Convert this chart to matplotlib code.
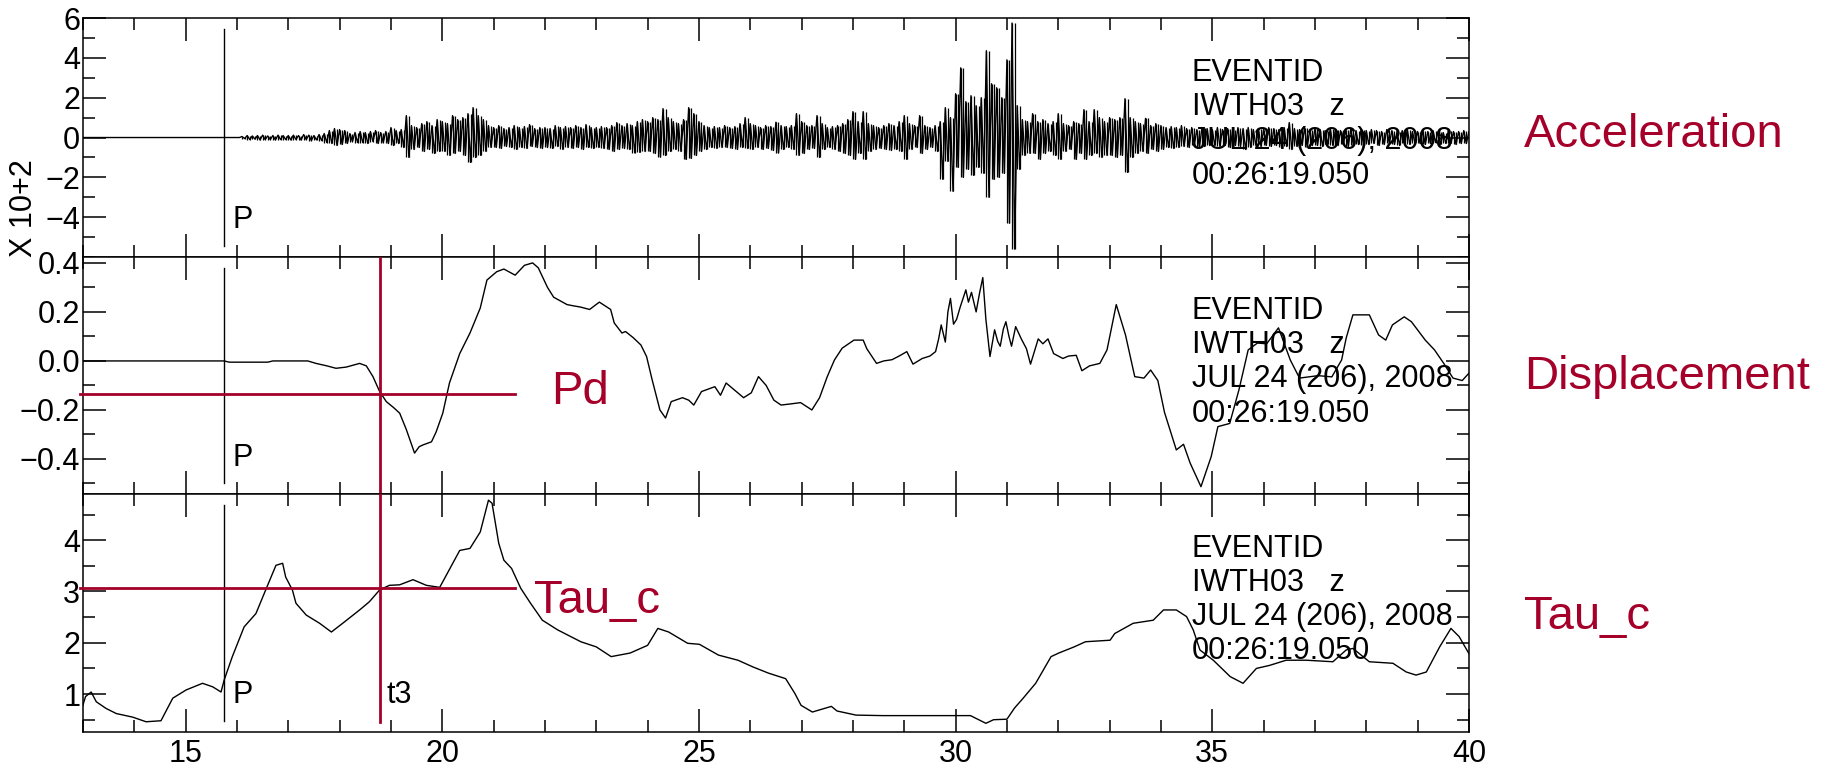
import numpy as np
import matplotlib
matplotlib.use('Agg')
import matplotlib.pyplot as plt
from matplotlib import font_manager
from matplotlib.ticker import MultipleLocator, FixedLocator, FuncFormatter


def pick_font(names, default='DejaVu Sans'):
    for name in names:
        try:
            font_manager.findfont(name, fallback_to_default=False)
            return name
        except ValueError:
            continue
    return default


# ---- acceleration (x 10^2), peak / trough per 0.1 s bin from 16.0 s ----
acc_t0 = 16.0
acc_dt = 0.1
acc_hi = [
    0.00, 0.05, 0.10, 0.08, 0.10, 0.12, 0.08, 0.10, 0.12, 0.10,  # 16
    0.10, 0.12, 0.10, 0.15, 0.12, 0.10, 0.15, 0.20, 0.35, 0.45,  # 17
    0.40, 0.35, 0.20, 0.25, 0.30, 0.25, 0.30, 0.35, 0.25, 0.30,  # 18
    0.50, 0.35, 0.40, 1.10, 0.60, 0.50, 0.70, 0.80, 0.60, 0.90,  # 19
    0.80, 0.70, 1.10, 0.90, 1.00, 1.20, 1.50, 1.10, 0.90, 0.60,  # 20
    0.50, 0.60, 0.45, 0.50, 0.60, 0.50, 0.55, 0.65, 0.45, 0.50,  # 21
    0.50, 0.45, 0.60, 0.50, 0.55, 0.50, 0.60, 0.50, 0.65, 0.50,  # 22
    0.50, 0.55, 0.50, 0.60, 0.75, 0.60, 0.70, 0.60, 0.80, 0.90,  # 23
    0.80, 1.00, 0.90, 1.45, 1.00, 0.80, 0.70, 0.90, 1.50, 1.20,  # 24
    0.80, 0.60, 0.50, 0.55, 0.50, 0.60, 0.50, 0.55, 0.70, 1.00,  # 25
    0.70, 0.60, 0.50, 0.60, 0.55, 0.77, 0.60, 0.55, 0.60, 1.20,  # 26
    0.80, 0.60, 0.60, 1.10, 0.70, 0.50, 0.55, 0.60, 0.70, 0.90,  # 27
    1.30, 0.80, 1.30, 0.70, 0.60, 0.50, 0.60, 0.70, 0.60, 0.80,  # 28
    1.10, 0.70, 0.60, 1.10, 0.60, 0.50, 0.60, 0.80, 1.50, 1.00,  # 29
    2.20, 3.50, 1.80, 2.10, 1.60, 2.00, 4.36, 2.70, 2.50, 2.00,  # 30
    3.90, 5.75, 1.60, 0.90, 0.80, 1.20, 0.80, 0.90, 0.70, 0.80,  # 31
    1.20, 0.70, 0.60, 0.80, 0.70, 1.40, 0.80, 1.40, 1.00, 0.80,  # 32
    1.00, 0.90, 1.00, 1.95, 1.00, 0.80, 0.70, 0.96, 0.60, 0.70,  # 33
    0.60, 0.50, 0.55, 0.50, 0.60, 0.45, 0.50, 0.40, 0.50, 0.45,  # 34
    0.40, 0.50, 0.40, 0.45, 0.40, 0.50, 0.45, 0.50, 0.40, 0.45,  # 35
    0.40, 0.50, 0.45, 0.40, 0.50, 0.75, 0.45, 0.40, 0.50, 0.40,  # 36
    0.45, 0.40, 0.35, 0.45, 0.40, 0.35, 0.40, 0.45, 0.35, 0.40,  # 37
    0.35, 0.40, 0.35, 0.30, 0.40, 0.35, 0.30, 0.35, 0.40, 0.30,  # 38
    0.30, 0.35, 0.30, 0.35, 0.30, 0.25, 0.35, 0.30, 0.30, 0.35,  # 39
    0.30,
]
acc_lo = [
    0.00, -0.05, -0.10, -0.08, -0.12, -0.10, -0.10, -0.12, -0.10, -0.10,
    -0.12, -0.10, -0.12, -0.10, -0.15, -0.12, -0.15, -0.25, -0.30, -0.40,
    -0.35, -0.30, -0.20, -0.25, -0.25, -0.30, -0.20, -0.30, -0.25, -0.30,
    -0.40, -0.30, -0.50, -1.00, -0.60, -0.50, -0.70, -0.60, -0.80, -0.70,
    -0.70, -0.90, -0.80, -0.70, -0.90, -1.25, -1.00, -0.90, -0.70, -0.50,
    -0.50, -0.55, -0.45, -0.50, -0.60, -0.50, -0.55, -0.45, -0.50, -0.55,
    -0.50, -0.55, -0.45, -0.60, -0.50, -0.55, -0.50, -0.60, -0.50, -0.55,
    -0.50, -0.55, -0.60, -0.70, -0.60, -0.55, -0.60, -0.77, -0.75, -0.70,
    -0.70, -0.80, -0.98, -0.90, -0.70, -0.60, -0.70, -1.10, -1.05, -0.90,
    -0.70, -0.60, -0.50, -0.55, -0.50, -0.50, -0.55, -0.60, -0.50, -0.55,
    -0.60, -0.50, -0.60, -0.55, -0.65, -0.77, -0.60, -0.50, -0.60, -0.90,
    -0.80, -0.60, -0.55, -1.00, -0.60, -0.50, -0.60, -0.70, -0.80, -0.90,
    -1.10, -0.80, -1.10, -0.70, -0.60, -0.55, -0.60, -0.65, -0.60, -0.70,
    -1.10, -0.60, -0.50, -0.80, -0.60, -0.50, -0.70, -2.10, -1.20, -2.70,
    -1.50, -2.00, -1.60, -1.90, -1.50, -1.80, -3.00, -2.10, -2.00, -1.80,
    -4.30, -5.60, -1.60, -0.90, -0.80, -0.80, -1.10, -0.80, -0.70, -0.90,
    -1.10, -0.70, -0.60, -1.10, -0.80, -1.10, -0.90, -0.80, -1.00, -0.90,
    -0.90, -1.00, -0.90, -1.75, -1.00, -0.80, -0.70, -0.80, -0.60, -0.70,
    -0.60, -0.50, -0.55, -0.50, -0.45, -0.50, -0.40, -0.50, -0.45, -0.40,
    -0.40, -0.45, -0.40, -0.50, -0.40, -0.45, -0.60, -0.50, -0.40, -0.45,
    -0.40, -0.45, -0.40, -0.50, -0.45, -0.60, -0.45, -0.40, -0.50, -0.40,
    -0.40, -0.45, -0.35, -0.40, -0.40, -0.35, -0.45, -0.40, -0.35, -0.40,
    -0.35, -0.30, -0.40, -0.35, -0.30, -0.35, -0.40, -0.30, -0.35, -0.30,
    -0.30, -0.35, -0.30, -0.25, -0.35, -0.30, -0.30, -0.35, -0.30, -0.30,
    -0.30,
]

# ---- displacement ----
disp_t = [13.0, 15.75, 15.85, 16.6, 16.7, 17.38, 17.54, 17.75, 17.93, 18.13,
          18.39, 18.52, 18.65, 18.78, 18.91, 19.05, 19.17, 19.3, 19.46, 19.55,
          19.62, 19.79, 19.88, 20.01, 20.14, 20.34, 20.54, 20.74, 20.87, 21.06,
          21.2, 21.42, 21.6, 21.76, 21.87, 22.05, 22.17, 22.43, 22.55, 22.69,
          22.87, 23.06, 23.28, 23.35, 23.5, 23.57, 23.72, 23.87, 23.98, 24.09,
          24.24, 24.35, 24.46, 24.68, 24.8, 24.9, 25.05, 25.31, 25.42, 25.53,
          25.7, 25.87, 26.02, 26.16, 26.31, 26.46, 26.6, 26.8, 26.98, 27.2,
          27.35, 27.5, 27.64, 27.79, 28.02, 28.2, 28.27, 28.46, 28.6, 28.76,
          28.9, 29.05, 29.17, 29.35, 29.5, 29.61, 29.67, 29.72, 29.8, 29.85,
          29.9, 29.96, 30.02, 30.09, 30.2, 30.25, 30.31, 30.4, 30.47, 30.53,
          30.59, 30.67, 30.76, 30.82, 30.87, 30.93, 30.98, 31.04, 31.09, 31.17,
          31.28, 31.38, 31.46, 31.61, 31.7, 31.8, 31.91, 32.09, 32.2, 32.35,
          32.46, 32.61, 32.81, 32.95, 33.13, 33.31, 33.49, 33.67, 33.8, 33.94,
          34.07, 34.3, 34.44, 34.57, 34.78, 34.98, 35.11, 35.34, 35.52, 35.7,
          35.88, 36.06, 36.29, 36.52, 36.7, 37.06, 37.33, 37.52, 37.61, 37.74,
          38.06, 38.24, 38.38, 38.51, 38.74, 38.88, 39.15, 39.33, 39.51, 39.69,
          39.87, 40.0]
disp_v = [0.0, 0.0, -0.005, -0.005, 0.0, 0.0, -0.01, -0.02, -0.03, -0.025,
          -0.01, -0.02, -0.064, -0.125, -0.166, -0.19, -0.213, -0.28, -0.376, -0.35,
          -0.343, -0.33, -0.29, -0.213, -0.09, 0.03, 0.114, 0.216, 0.33, 0.364,
          0.375, 0.35, 0.39, 0.40, 0.38, 0.30, 0.26, 0.23, 0.225, 0.22,
          0.21, 0.24, 0.21, 0.155, 0.114, 0.12, 0.095, 0.065, 0.018, -0.078,
          -0.2, -0.233, -0.166, -0.15, -0.16, -0.18, -0.125, -0.105, -0.14, -0.09,
          -0.12, -0.15, -0.13, -0.064, -0.1, -0.16, -0.18, -0.175, -0.17, -0.2,
          -0.15, -0.064, 0.004, 0.052, 0.085, 0.085, 0.05, -0.01, 0.0, 0.005,
          0.02, 0.038, -0.013, 0.01, 0.02, 0.038, 0.09, 0.147, 0.077, 0.2,
          0.255, 0.15, 0.17, 0.22, 0.29, 0.24, 0.28, 0.2, 0.28, 0.34,
          0.17, 0.018, 0.127, 0.08, 0.06, 0.13, 0.16, 0.1, 0.06, 0.14,
          0.09, 0.05, -0.013, 0.09, 0.07, 0.09, 0.03, 0.01, 0.02, 0.023,
          -0.04, -0.02, -0.01, 0.045, 0.23, 0.106, -0.064, -0.07, -0.037, -0.08,
          -0.21, -0.363, -0.34, -0.417, -0.513, -0.39, -0.268, -0.255, -0.118, 0.045,
          0.073, 0.07, 0.135, 0.004, -0.07, -0.06, -0.065, 0.004, 0.094, 0.188,
          0.188, 0.106, 0.085, 0.147, 0.18, 0.16, 0.085, 0.045, -0.01, -0.07,
          -0.08, -0.05]

# ---- tau_c ----
tau_t = [13.0, 13.05, 13.16, 13.26, 13.45, 13.65, 13.97, 14.23, 14.52, 14.75,
         15.01, 15.33, 15.53, 15.69, 15.75, 15.91, 16.14, 16.37, 16.56, 16.76,
         16.89, 16.95, 17.08, 17.15, 17.35, 17.61, 17.84, 18.06, 18.39, 18.58,
         18.78, 18.97, 19.17, 19.43, 19.69, 19.95, 20.08, 20.34, 20.54, 20.74,
         20.9, 20.97, 21.1, 21.2, 21.35, 21.53, 21.72, 21.95, 22.25, 22.7,
         23.0, 23.29, 23.66, 24.0, 24.2, 24.41, 24.78, 25.01, 25.38, 25.76,
         26.05, 26.35, 26.69, 26.87, 26.99, 27.21, 27.58, 27.69, 28.06, 28.58,
         30.29, 30.59, 30.74, 31.0, 31.15, 31.3, 31.56, 31.86, 32.01, 32.31,
         32.53, 33.01, 33.1, 33.46, 33.85, 34.05, 34.3, 34.5, 34.63, 34.76,
         35.02, 35.35, 35.6, 35.86, 36.12, 36.44, 36.83, 37.35, 37.61, 37.74,
         38.06, 38.52, 38.78, 38.97, 39.17, 39.43, 39.65, 39.81, 40.0]
tau_v = [0.785, 0.95, 1.04, 0.85, 0.72, 0.62, 0.55, 0.46, 0.48, 0.92,
         1.08, 1.21, 1.14, 1.04, 1.27, 1.73, 2.31, 2.57, 3.03, 3.51,
         3.55, 3.28, 3.03, 2.77, 2.54, 2.38, 2.21, 2.38, 2.64, 2.8,
         3.03, 3.12, 3.13, 3.23, 3.12, 3.08, 3.32, 3.8, 3.84, 4.16,
         4.78, 4.72, 3.94, 3.61, 3.45, 3.06, 2.77, 2.44, 2.25, 2.02,
         1.92, 1.73, 1.8, 1.95, 2.28, 2.21, 1.99, 1.97, 1.76, 1.66,
         1.53, 1.41, 1.3, 1.01, 0.78, 0.65, 0.76, 0.67, 0.59, 0.58,
         0.58, 0.43, 0.5, 0.51, 0.73, 0.9, 1.21, 1.73, 1.8, 1.92,
         2.02, 2.05, 2.18, 2.38, 2.44, 2.64, 2.64, 2.51, 2.25, 1.86,
         1.66, 1.34, 1.21, 1.5, 1.56, 1.66, 1.66, 1.63, 1.86, 1.89,
         1.63, 1.6, 1.43, 1.37, 1.43, 1.92, 2.28, 2.12, 1.79]

p_time = 15.75
t3_time = 18.79
pd_value = -0.133
tauc_value = 3.06
mark_end = 21.42

header = ['EVENTID', 'IWTH03   z', 'JUL 24 (206), 2008', '00:26:19.050']
panel_names = ['Acceleration', 'Displacement', 'Tau_c']

red = '#A5002A'
sac_font = pick_font(['Liberation Sans Narrow', 'Liberation Sans'])
label_font = pick_font(['Liberation Sans', 'Arial'])
plt.rcParams['font.family'] = [sac_font, 'DejaVu Sans']
plt.rcParams['font.size'] = 22

fig = plt.figure(figsize=(18.27, 7.67), dpi=100)
left, width = 0.0454, 0.7586
ax1 = fig.add_axes([left, 0.6649, width, 0.3116])
ax2 = fig.add_axes([left, 0.3559, width, 0.3090])
ax3 = fig.add_axes([left, 0.0456, width, 0.3103])
axes = [ax1, ax2, ax3]

# acceleration trace: interleave peaks and troughs, plus a stroke per bin
acc_t = acc_t0 + acc_dt * np.arange(len(acc_hi))
tr_t = np.empty(2 * len(acc_t))
tr_v = np.empty(2 * len(acc_t))
tr_t[0::2] = acc_t
tr_t[1::2] = acc_t + acc_dt / 2
tr_v[0::2] = acc_hi
tr_v[1::2] = acc_lo
tr_t = np.concatenate([[13.0], tr_t])
tr_v = np.concatenate([[0.0], tr_v])
ax1.plot(tr_t, tr_v, color='black', lw=1.0)
ax1.vlines(acc_t, acc_lo, acc_hi, color='black', lw=0.9)
ax1.vlines(acc_t + acc_dt / 2, acc_lo, acc_hi, color='black', lw=0.9)

ax2.plot(disp_t, disp_v, color='black', lw=1.0)
ax3.plot(tau_t, tau_v, color='black', lw=1.0)

for ax in axes:
    ax.set_xlim(13, 40)
    ax.xaxis.set_major_locator(MultipleLocator(5))
    ax.xaxis.set_minor_locator(MultipleLocator(1))
    ax.tick_params(which='both', direction='in', top=True, right=True,
                   width=1.1, colors='black', labelsize=22)
    ax.tick_params(which='major', length=16.5)
    ax.tick_params(which='minor', length=8.5)
    ax.tick_params(axis='y', pad=2)
    ax.tick_params(axis='x', pad=5)
    for sp in ax.spines.values():
        sp.set_linewidth(1.1)
    ax.axvline(p_time, ymin=0.046, ymax=0.952, color='black', lw=1.0)
    ax.text(15.92, 0.12, 'P', transform=ax.get_xaxis_transform(),
            fontsize=22, va='baseline')
    for txt, yf in zip(header, [0.737, 0.594, 0.45, 0.305]):
        ax.text(34.6, yf, txt, transform=ax.get_xaxis_transform(),
                fontsize=22, va='baseline')

ax1.tick_params(labelbottom=False)
ax2.tick_params(labelbottom=False)

minus = FuncFormatter(lambda v, pos: ('%g' % v).replace('-', '\u2212'))
ax1.set_ylim(-6, 6)
ax1.yaxis.set_major_locator(FixedLocator([-4, -2, 0, 2, 4, 6]))
ax1.yaxis.set_minor_locator(MultipleLocator(1))
ax1.yaxis.set_major_formatter(minus)

ax2.set_ylim(-0.543, 0.424)
ax2.yaxis.set_major_locator(FixedLocator([-0.4, -0.2, 0.0, 0.2, 0.4]))
ax2.yaxis.set_minor_locator(FixedLocator([-0.5, -0.3, -0.1, 0.1, 0.3]))
ax2.yaxis.set_major_formatter(
    FuncFormatter(lambda v, pos: ('%.1f' % v).replace('-', '\u2212')))

ax3.set_ylim(0.26, 4.9)
ax3.yaxis.set_major_locator(FixedLocator([1, 2, 3, 4]))
ax3.yaxis.set_minor_locator(FixedLocator([0.5, 1.5, 2.5, 3.5, 4.5]))

# red annotations
ax2.plot([12.94, mark_end], [pd_value, pd_value], color=red, lw=2,
         clip_on=False, zorder=5)
ax3.plot([12.94, mark_end], [tauc_value, tauc_value], color=red, lw=2,
         clip_on=False, zorder=5)
ax2.axvline(t3_time, ymin=0, ymax=1, color=red, lw=2, zorder=5)
ax3.axvline(t3_time, ymin=0.042, ymax=1, color=red, lw=2, zorder=5)
ax3.text(18.92, 0.83, 't3', fontsize=22, va='baseline')

ax2.text(22.12, -0.176, 'Pd', color=red, fontsize=34,
         family=label_font, va='baseline')
ax3.text(21.79, 2.58, 'Tau_c', color=red, fontsize=34,
         family=label_font, va='baseline')

fig.text(0.0131, 0.729, 'X 10+2', rotation=90, ha='center', va='center',
         fontsize=22)

for name, yb in zip(panel_names, [0.8083, 0.4928, 0.1799]):
    fig.text(0.834, yb, name, color=red, fontsize=34, family=label_font,
             va='baseline')

fig.savefig('out.png', dpi=100)
